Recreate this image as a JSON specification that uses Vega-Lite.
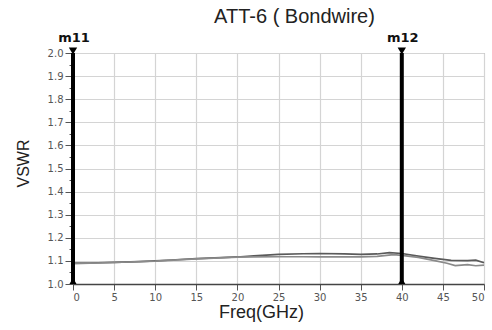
{
  "$schema": "https://vega.github.io/schema/vega-lite/v6.json",
  "autosize": {"type": "none"},
  "padding": {"left": 73, "top": 53, "right": 8, "bottom": 46},
  "width": 411,
  "height": 231,
  "background": "white",
  "title": {
    "text": "ATT-6 ( Bondwire)",
    "font": "Liberation Sans",
    "fontSize": 20,
    "fontWeight": "normal",
    "color": "#222",
    "anchor": "middle",
    "dx": 16,
    "offset": 5
  },
  "config": {
    "view": {"stroke": "#999", "strokeWidth": 1},
    "font": "Liberation Sans"
  },
  "datasets": {
    "trace": [
      {"freq": 0, "vswr": 1.090, "port": "S11"},
      {"freq": 2, "vswr": 1.091, "port": "S11"},
      {"freq": 5, "vswr": 1.094, "port": "S11"},
      {"freq": 8, "vswr": 1.097, "port": "S11"},
      {"freq": 10, "vswr": 1.100, "port": "S11"},
      {"freq": 12, "vswr": 1.104, "port": "S11"},
      {"freq": 15, "vswr": 1.110, "port": "S11"},
      {"freq": 18, "vswr": 1.114, "port": "S11"},
      {"freq": 20, "vswr": 1.117, "port": "S11"},
      {"freq": 22, "vswr": 1.122, "port": "S11"},
      {"freq": 25, "vswr": 1.128, "port": "S11"},
      {"freq": 28, "vswr": 1.131, "port": "S11"},
      {"freq": 30, "vswr": 1.132, "port": "S11"},
      {"freq": 33, "vswr": 1.130, "port": "S11"},
      {"freq": 35, "vswr": 1.128, "port": "S11"},
      {"freq": 37, "vswr": 1.130, "port": "S11"},
      {"freq": 38.5, "vswr": 1.136, "port": "S11"},
      {"freq": 40, "vswr": 1.132, "port": "S11"},
      {"freq": 42, "vswr": 1.121, "port": "S11"},
      {"freq": 44, "vswr": 1.111, "port": "S11"},
      {"freq": 46, "vswr": 1.102, "port": "S11"},
      {"freq": 48, "vswr": 1.101, "port": "S11"},
      {"freq": 49, "vswr": 1.103, "port": "S11"},
      {"freq": 50, "vswr": 1.092, "port": "S11"},
      {"freq": 0, "vswr": 1.088, "port": "S22"},
      {"freq": 5, "vswr": 1.093, "port": "S22"},
      {"freq": 10, "vswr": 1.099, "port": "S22"},
      {"freq": 15, "vswr": 1.109, "port": "S22"},
      {"freq": 20, "vswr": 1.116, "port": "S22"},
      {"freq": 22, "vswr": 1.117, "port": "S22"},
      {"freq": 25, "vswr": 1.118, "port": "S22"},
      {"freq": 28, "vswr": 1.118, "port": "S22"},
      {"freq": 30, "vswr": 1.117, "port": "S22"},
      {"freq": 33, "vswr": 1.117, "port": "S22"},
      {"freq": 35, "vswr": 1.117, "port": "S22"},
      {"freq": 37, "vswr": 1.120, "port": "S22"},
      {"freq": 39, "vswr": 1.127, "port": "S22"},
      {"freq": 40, "vswr": 1.124, "port": "S22"},
      {"freq": 42, "vswr": 1.115, "port": "S22"},
      {"freq": 44, "vswr": 1.101, "port": "S22"},
      {"freq": 45.5, "vswr": 1.090, "port": "S22"},
      {"freq": 46.5, "vswr": 1.080, "port": "S22"},
      {"freq": 48, "vswr": 1.084, "port": "S22"},
      {"freq": 49, "vswr": 1.079, "port": "S22"},
      {"freq": 50, "vswr": 1.082, "port": "S22"}
    ],
    "markers": [
      {"name": "m11", "freq": 0},
      {"name": "m12", "freq": 40}
    ]
  },
  "layer": [
    {
      "data": {"name": "trace"},
      "mark": {"type": "line", "strokeWidth": 1.7, "interpolate": "linear"},
      "encoding": {
        "x": {
          "field": "freq",
          "type": "quantitative",
          "scale": {"domain": [0, 50], "nice": false, "zero": false},
          "axis": {
            "title": "Freq(GHz)",
            "titleFont": "Liberation Sans",
            "titleFontSize": 18,
            "titleFontWeight": "normal",
            "titleColor": "#222",
            "titlePadding": 1,
            "titleX": 188,
            "titleAlign": "center",
            "values": [0, 5, 10, 15, 20, 25, 30, 35, 40, 45, 50],
            "labelFont": "DejaVu Sans",
            "labelFontSize": 10,
            "labelColor": "#555",
            "labelPadding": 2,
            "tickSize": 6,
            "tickColor": "#555",
            "domainColor": "#444",
            "domainWidth": 1.5,
            "gridColor": "#d4d4d4",
            "gridWidth": 1.2
          }
        },
        "y": {
          "field": "vswr",
          "type": "quantitative",
          "scale": {"domain": [1.0, 2.0], "nice": false, "zero": false},
          "axis": {
            "title": "VSWR",
            "titleFont": "Liberation Sans",
            "titleFontSize": 16,
            "titleFontWeight": "normal",
            "titleColor": "#222",
            "titlePadding": 16,
            "titleY": 110,
            "values": [1.0, 1.05, 1.1, 1.15, 1.2, 1.25, 1.3, 1.35, 1.4, 1.45, 1.5, 1.55, 1.6, 1.65, 1.7, 1.75, 1.8, 1.85, 1.9, 1.95, 2.0],
            "labelExpr": "abs(datum.value * 10 - round(datum.value * 10)) < 0.01 ? format(datum.value, '.1f') : ''",
            "labelFont": "DejaVu Sans",
            "labelFontSize": 10,
            "labelColor": "#555",
            "labelPadding": 2,
            "tickSize": {"condition": {"test": "abs(datum.value * 10 - round(datum.value * 10)) < 0.01", "value": 8}, "value": 4},
            "tickColor": "#555",
            "gridOpacity": {"condition": {"test": "abs(datum.value * 10 - round(datum.value * 10)) < 0.01", "value": 1}, "value": 0},
            "gridColor": "#d4d4d4",
            "gridWidth": 1.2,
            "domainColor": "#444"
          }
        },
        "color": {
          "field": "port",
          "type": "nominal",
          "scale": {"domain": ["S11", "S22"], "range": ["#5a5a5a", "#8a8a8a"]},
          "legend": null
        }
      }
    },
    {
      "data": {"name": "markers"},
      "mark": {"type": "rule", "color": "black", "strokeWidth": 4, "y": 0, "y2": {"expr": "height"}},
      "encoding": {"x": {"field": "freq", "type": "quantitative"}}
    },
    {
      "data": {"name": "markers"},
      "mark": {"type": "point", "shape": "triangle-down", "filled": true, "color": "black", "opacity": 1, "size": 70, "y": 0, "yOffset": -2},
      "encoding": {"x": {"field": "freq", "type": "quantitative"}}
    },
    {
      "data": {"name": "markers"},
      "mark": {"type": "point", "shape": "triangle-up", "filled": true, "color": "black", "opacity": 1, "size": 50, "y": {"expr": "height"}, "yOffset": -3},
      "encoding": {"x": {"field": "freq", "type": "quantitative"}}
    },
    {
      "data": {"name": "markers"},
      "mark": {"type": "text", "font": "DejaVu Sans", "fontSize": 13, "fontWeight": "bold", "color": "#111", "y": 0, "dy": -15, "dx": 1, "align": "center"},
      "encoding": {
        "x": {"field": "freq", "type": "quantitative"},
        "text": {"field": "name"}
      }
    }
  ]
}
